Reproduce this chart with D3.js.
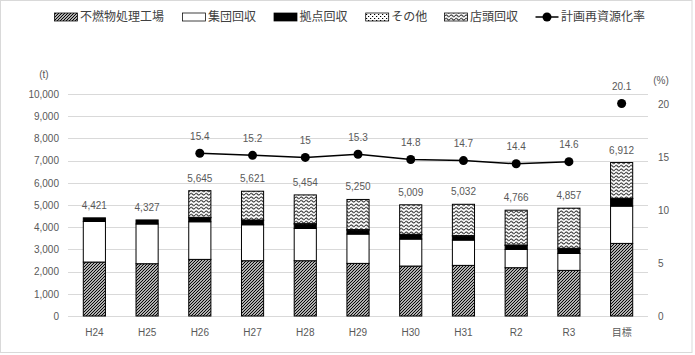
<!DOCTYPE html>
<html><head><meta charset="utf-8">
<script src="https://cdn.jsdelivr.net/npm/d3@7"></script>
<style>body{margin:0;background:#fff}svg{display:block}</style>
</head><body>
<svg id="c" width="695" height="355"></svg>
<script>
const categories = ["H24","H25","H26","H27","H28","H29","H30","H31","R2","R3","目標"];
const funen  = [2430,2355,2550,2490,2490,2370,2250,2280,2175,2055,3270];
const shudan = [1830,1790,1695,1620,1455,1320,1215,1140, 825, 765,1680];
const kyoten = [ 161, 182, 180, 195, 195, 180, 195, 180, 180, 210, 330];
const sonota = [   0,   0,  20,  20,  20,  20,  20,  20,  20,  20,  20];
const tento  = [   0,   0,1200,1296,1294,1360,1329,1412,1566,1807,1612];
const totals = [4421,4327,5645,5621,5454,5250,5009,5032,4766,4857,6912];
const rates  = [null,null,15.4,15.2,15.0,15.3,14.8,14.7,14.4,14.6,20.1];
const leftTicks = [0,1000,2000,3000,4000,5000,6000,7000,8000,9000,10000];
const rightTicks = [0,5,10,15,20];
const seriesNames = ["不燃物処理工場","集団回収","拠点回収","その他","店頭回収"];
const lineName = "計画再資源化率";

const svg = d3.select("#c");
const numFont = "'Liberation Sans', Arial, sans-serif";
const jpFont = "'Noto Sans CJK JP', sans-serif";
const gray = "#595959";

// patterns
const defs = svg.append("defs");
const pDiag = defs.append("pattern").attr("id","pDiag").attr("patternUnits","userSpaceOnUse").attr("width",3).attr("height",3);
pDiag.append("rect").attr("width",3).attr("height",3).attr("fill","#fff");
pDiag.append("path").attr("d","M-1,1 l2,-2 M0,3 l3,-3 M2,4 l2,-2").attr("stroke","#000").attr("stroke-width",1.2);
const pDot = defs.append("pattern").attr("id","pDot").attr("patternUnits","userSpaceOnUse").attr("width",4).attr("height",4);
pDot.append("rect").attr("width",4).attr("height",4).attr("fill","#fff");
pDot.append("rect").attr("x",0).attr("y",0).attr("width",1.2).attr("height",1).attr("fill","#000");
pDot.append("rect").attr("x",2).attr("y",2).attr("width",1.2).attr("height",1).attr("fill","#000");
const pWave = defs.append("pattern").attr("id","pWave").attr("patternUnits","userSpaceOnUse").attr("width",5).attr("height",3.5);
pWave.append("rect").attr("width",5).attr("height",3.5).attr("fill","#fff");
pWave.append("path").attr("d","M0,1.75 Q1.25,0 2.5,1.75 T5,1.75").attr("fill","none").attr("stroke","#000").attr("stroke-width",0.9);
const fills = ["url(#pDiag)","#fff","#000","url(#pDot)","url(#pWave)"];

// border
svg.append("rect").attr("x",0.5).attr("y",0.5).attr("width",691.5).attr("height",352).attr("fill","none").attr("stroke","#d9d9d9").attr("stroke-width",1);

const x = d3.scaleBand().domain(categories).range([68,648]).paddingInner(0.58).paddingOuter(0.29);
const y = d3.scaleLinear().domain([0,10000]).range([316,94]);
const y2 = d3.scaleLinear().domain([0,21]).range([316,94]);

// gridlines
svg.append("g").selectAll("line").data(leftTicks).join("line")
  .attr("x1",68).attr("x2",648).attr("y1",d=>Math.round(y(d))+0.5).attr("y2",d=>Math.round(y(d))+0.5)
  .attr("stroke","#d9d9d9").attr("stroke-width",1);

// axes
const la = svg.append("g").attr("transform","translate(68,0)")
  .call(d3.axisLeft(y).tickValues(leftTicks).tickSize(0).tickPadding(9).tickFormat(d3.format(",")));
const ra = svg.append("g").attr("transform","translate(648,0)")
  .call(d3.axisRight(y2).tickValues(rightTicks).tickSize(0).tickPadding(10));
const ba = svg.append("g").attr("transform","translate(0,316)")
  .call(d3.axisBottom(x).tickSize(0).tickPadding(13));
[la,ra,ba].forEach(g=>{g.select(".domain").remove();g.selectAll("text").attr("fill",gray).attr("font-size",10).attr("font-family",numFont);});
ba.selectAll("text").filter(d=>d==="目標").attr("font-family",jpFont);

svg.append("text").attr("x",44).attr("y",74).attr("dy","0.35em").attr("text-anchor","middle").attr("font-size",10).attr("font-family",numFont).attr("fill",gray).text("(t)");
svg.append("text").attr("x",661).attr("y",80).attr("dy","0.35em").attr("text-anchor","middle").attr("font-size",10).attr("font-family",numFont).attr("fill",gray).text("(%)");

// stacked bars
const rows = categories.map((c,i)=>({cat:c,s0:funen[i],s1:shudan[i],s2:kyoten[i],s3:sonota[i],s4:tento[i]}));
const stack = d3.stack().keys(["s0","s1","s2","s3","s4"])(rows);
stack.forEach((layer,k)=>{
  svg.append("g").selectAll("rect").data(layer.filter(d=>d[1]-d[0]>0)).join("rect")
    .attr("x",d=>x(d.data.cat)).attr("width",x.bandwidth())
    .attr("y",d=>y(d[1])).attr("height",d=>y(d[0])-y(d[1]))
    .attr("fill",fills[k]).attr("stroke","#000").attr("stroke-width",1);
});

// total labels
svg.append("g").selectAll("text").data(categories).join("text")
  .attr("x",d=>x(d)+x.bandwidth()/2).attr("y",(d,i)=>y(totals[i])-12.5).attr("dy","0.35em")
  .attr("text-anchor","middle").attr("font-size",10).attr("font-family",numFont).attr("fill",gray)
  .text((d,i)=>d3.format(",")(totals[i]));

// rate line (H26–R3), target point separate
const pts = categories.map((c,i)=>({c,v:rates[i]})).filter(d=>d.v!=null);
const linePts = pts.filter(d=>d.c!=="目標");
svg.append("path").datum(linePts)
  .attr("d",d3.line().x(d=>x(d.c)+x.bandwidth()/2).y(d=>y2(d.v)))
  .attr("fill","none").attr("stroke","#000").attr("stroke-width",1.5);
svg.append("g").selectAll("circle").data(pts).join("circle")
  .attr("cx",d=>x(d.c)+x.bandwidth()/2).attr("cy",d=>y2(d.v)).attr("r",4.5).attr("fill","#000");
svg.append("g").selectAll("text").data(pts).join("text")
  .attr("x",d=>x(d.c)+x.bandwidth()/2).attr("y",d=>y2(d.v)-17).attr("dy","0.35em")
  .attr("text-anchor","middle").attr("font-size",10).attr("font-family",numFont).attr("fill",gray)
  .text(d=>String(d.v));

// legend
const legX = [54.5,182.6,274,365.7,444.6];
const lg = svg.append("g");
seriesNames.forEach((n,i)=>{
  lg.append("rect").attr("x",legX[i]).attr("y",13).attr("width",23).attr("height",8)
    .attr("fill",fills[i]).attr("stroke","#000").attr("stroke-width",0.75);
  lg.append("text").attr("x",legX[i]+25.5).attr("y",17).attr("dy","0.35em")
    .attr("font-size",12).attr("font-family",jpFont).attr("fill","#404040").text(n);
});
lg.append("line").attr("x1",535.5).attr("x2",558.5).attr("y1",17).attr("y2",17).attr("stroke","#000").attr("stroke-width",1.5);
lg.append("circle").attr("cx",547).attr("cy",17).attr("r",4.5).attr("fill","#000");
lg.append("text").attr("x",561).attr("y",17).attr("dy","0.35em").attr("font-size",12).attr("font-family",jpFont).attr("fill","#404040").text(lineName);
</script>
</body></html>
